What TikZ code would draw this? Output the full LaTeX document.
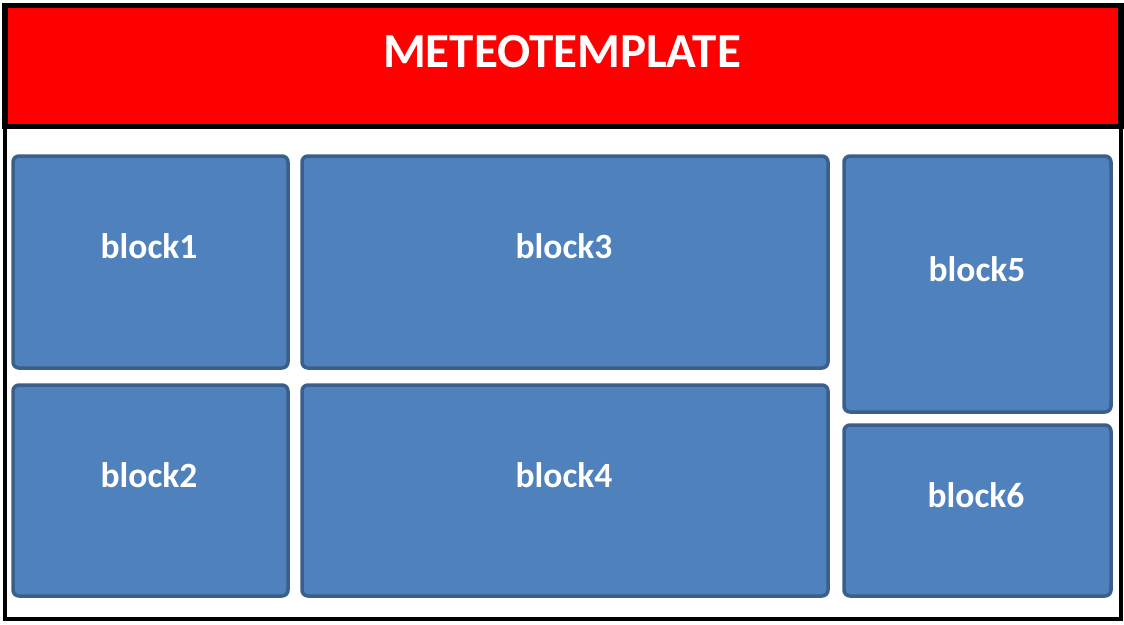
\documentclass[tikz,border=0pt]{standalone}
\usepackage{fontspec}
\setmainfont{Carlito}
\definecolor{hdrred}{HTML}{FF0000}
\definecolor{blkfill}{HTML}{4F81BD}
\definecolor{blkline}{HTML}{3A5F8B}
\begin{document}
\begin{tikzpicture}[x=1pt,y=-1pt,
  blockbox/.style={draw=blkline,fill=blkfill,line width=3.5pt,rounded corners=6pt},
  blocklabel/.style={text=white,font=\fontsize{35.5}{40}\selectfont\bfseries,anchor=base,inner sep=0pt},
  frame/.style={draw=black,line width=5pt}]
\useasboundingbox (0,0) rectangle (1124,624);
\fill[white] (0,0) rectangle (1124,624);
% lower panel
\draw[frame,line width=4pt,fill=white] (5,127) rectangle (1121,619);
% header
\draw[frame,line width=5.5pt,fill=hdrred] (5,5.5) rectangle (1121,126.5);
\node[text=white,font=\fontsize{49}{56}\selectfont\bfseries,anchor=base,inner sep=0pt] (title) at (562,67) {METEOTEMPLATE};
% blocks
\draw[blockbox] (13,156) rectangle (288,368);
\draw[blockbox] (302,156) rectangle (828,368);
\draw[blockbox] (844,156) rectangle (1111,412);
\draw[blockbox] (13,385) rectangle (288,596);
\draw[blockbox] (302,385) rectangle (828,596);
\draw[blockbox] (844,425) rectangle (1111,596);
\node[blocklabel] (l1) at (149,258) {block1};
\node[blocklabel] (l3) at (564,258) {block3};
\node[blocklabel] (l5) at (977,281) {block5};
\node[blocklabel] (l2) at (149,487) {block2};
\node[blocklabel] (l4) at (564,487) {block4};
\node[blocklabel] (l6) at (976,507) {block6};
\end{tikzpicture}
\end{document}
